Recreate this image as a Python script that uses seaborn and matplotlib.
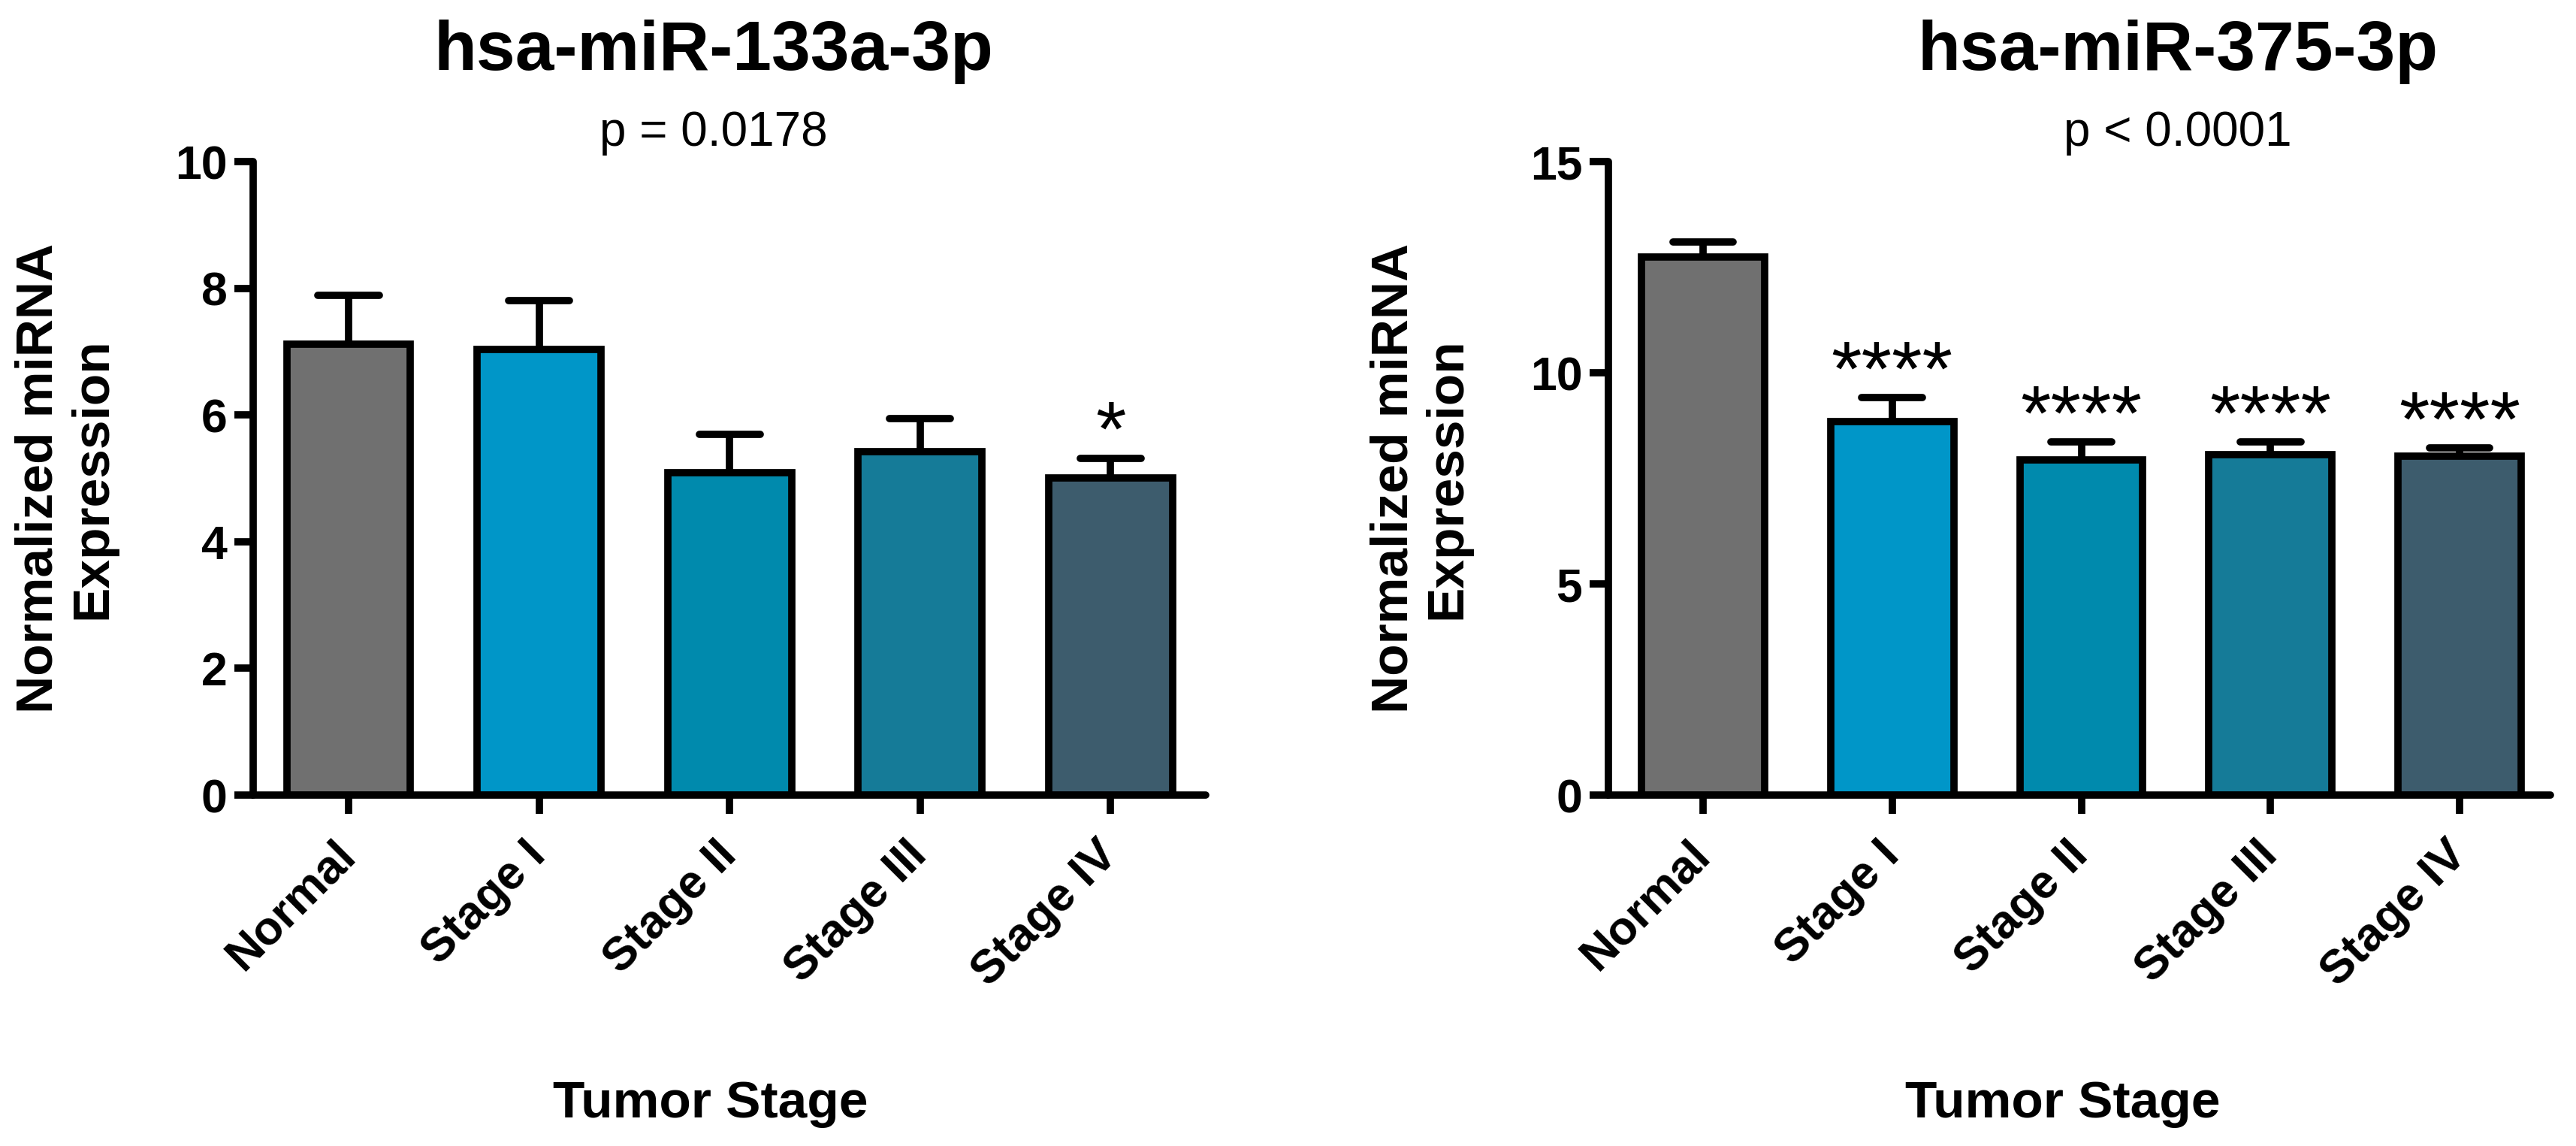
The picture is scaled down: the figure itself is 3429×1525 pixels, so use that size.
"""
Bar charts of normalized miRNA expression by tumor stage (mean + SEM).
"""

import numpy as np
import pandas as pd
import matplotlib.pyplot as plt
import seaborn as sns

# ============================================================
# Data
# ============================================================
stages = ["Normal", "Stage I", "Stage II", "Stage III", "Stage IV"]
bar_colors = ["#707070", "#0096C8", "#008AAD", "#157B98", "#3D5C6D"]

mir133_mean = [7.12, 7.03, 5.09, 5.42, 5.01]
mir133_sem = [0.77, 0.77, 0.61, 0.52, 0.31]
mir133_stars = ["", "", "", "", "*"]
mir133_ticks = [0, 2, 4, 6, 8, 10]

mir375_mean = [12.74, 8.85, 7.93, 8.07, 8.02]
mir375_sem = [0.35, 0.56, 0.43, 0.29, 0.20]
mir375_stars = ["", "****", "****", "****", "****"]
mir375_ticks = [0, 5, 10, 15]

sns.set_style("white")
plt.rcParams["font.family"] = ["Liberation Sans", "DejaVu Sans"]
plt.rcParams["text.color"] = "black"
plt.rcParams["axes.labelcolor"] = "black"
plt.rcParams["xtick.color"] = "black"
plt.rcParams["ytick.color"] = "black"

LW = 7


def plot_panel(ax, means, sems, stars, ticks, xmax):
    df = pd.DataFrame({"stage": stages, "mean": means, "sem": sems})
    sns.barplot(
        data=df,
        x="stage",
        y="mean",
        hue="stage",
        palette=bar_colors,
        saturation=1,
        width=0.65,
        edgecolor="black",
        linewidth=LW,
        errorbar=None,
        legend=False,
        ax=ax,
        zorder=2,
    )
    x = np.arange(len(stages))
    top = df["mean"] + df["sem"]
    # upper SEM only, GraphPad style
    ax.vlines(x, df["mean"], top, color="black", linewidth=LW, zorder=1)
    ax.hlines(top, x - 0.16, x + 0.16, color="black", linewidth=LW,
              capstyle="round", zorder=3)

    for xi, yi, s in zip(x, top, stars):
        if s:
            ax.annotate(s, (xi, yi), xytext=(0, 2), textcoords="offset points",
                        ha="center", va="baseline", fontsize=75, color="black")

    ax.set_ylim(ticks[0], ticks[-1])
    ax.set_yticks(ticks)
    ax.set_xlim(-0.5, xmax)
    ax.set_xlabel("")
    ax.set_ylabel("")
    sns.despine(ax=ax)
    for side in ["left", "bottom"]:
        ax.spines[side].set_linewidth(LW)
        ax.spines[side].set_color("black")
        ax.spines[side].set_capstyle("round")
    ax.tick_params(axis="both", direction="out", length=18, width=LW,
                   color="black", labelcolor="black", labelsize=45)
    ax.tick_params(axis="y", pad=7, left=True)
    ax.tick_params(axis="x", pad=33, bottom=True)
    for lab in ax.get_yticklabels():
        lab.set_fontweight("bold")
    plt.setp(ax.get_xticklabels(), rotation=45, ha="right", va="center",
             rotation_mode="anchor", fontweight="bold")


fig = plt.figure(figsize=(34.3, 15.25), dpi=100)
ax1 = fig.add_axes([0.0983, 0.3062, 0.3697, 0.5528])
ax2 = fig.add_axes([0.6242, 0.3062, 0.3656, 0.5528])

plot_panel(ax1, mir133_mean, mir133_sem, mir133_stars, mir133_ticks, 4.5)
plot_panel(ax2, mir375_mean, mir375_sem, mir375_stars, mir375_ticks, 4.48)

panels = [
    ("hsa-miR-133a-3p", "p = 0.0178", 0.277, 0.2758, 0.0058),
    ("hsa-miR-375-3p", "p < 0.0001", 0.8452, 0.8006, 0.5315),
]
for title, ptxt, tx, xlx, ylx in panels:
    fig.text(tx, 0.9393, title, ha="center", va="baseline",
             fontsize=67, fontweight="bold", color="black")
    fig.text(tx, 0.8725, ptxt, ha="center", va="baseline", fontsize=46,
             color="black")
    fig.text(xlx, 0.0249, "Tumor Stage", ha="center", va="baseline",
             fontsize=50, fontweight="bold", color="black")
    fig.text(ylx, 0.5826, "Normalized miRNA\nExpression", ha="left",
             va="center", rotation=90, multialignment="center",
             linespacing=1.15, fontsize=50, fontweight="bold", color="black")

fig.savefig("out.png", dpi=100, facecolor="white")
plt.close(fig)
